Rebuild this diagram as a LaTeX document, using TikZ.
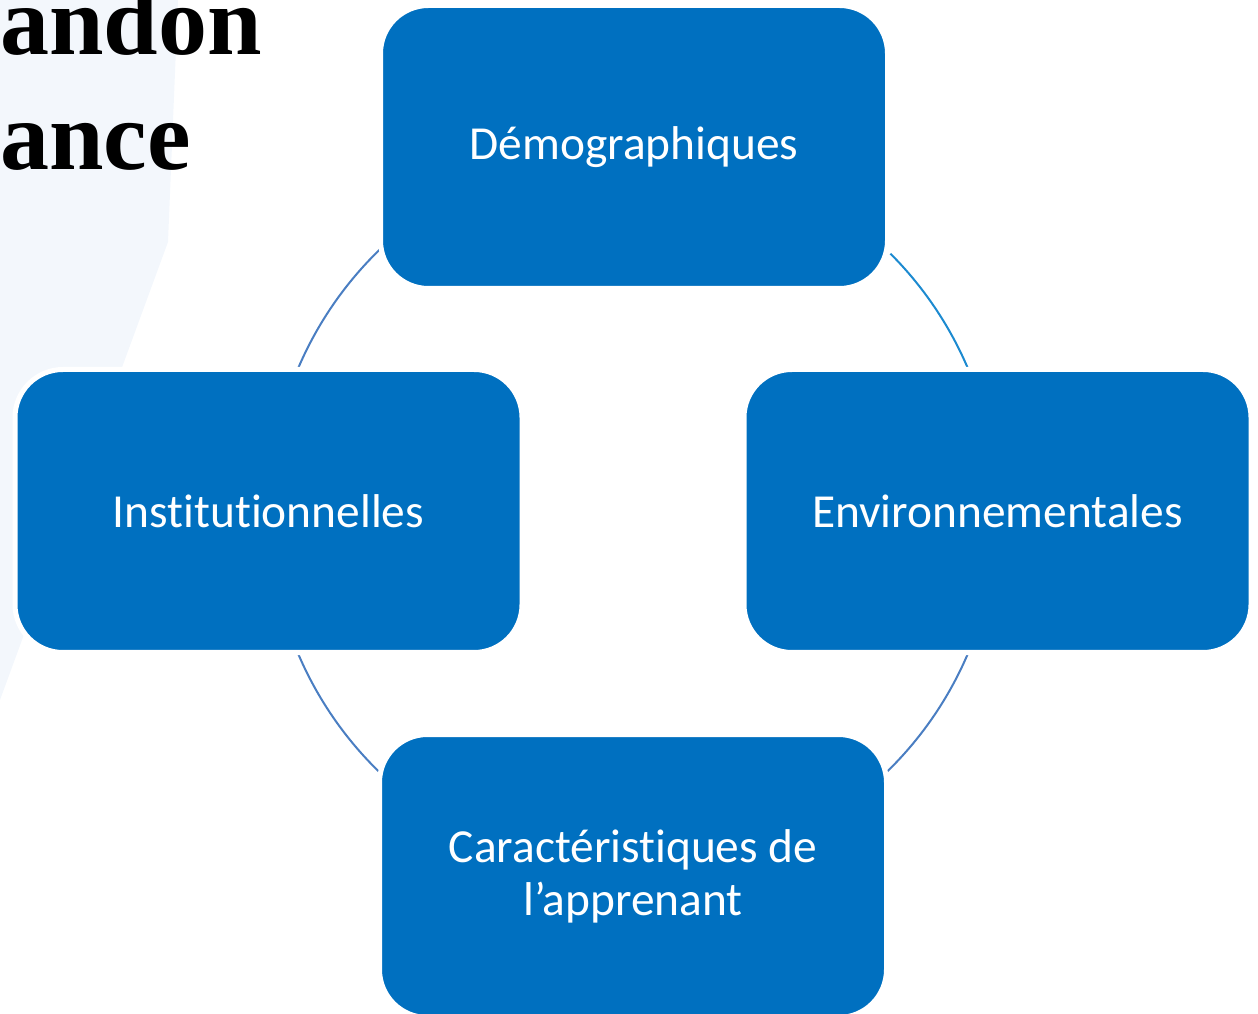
\documentclass[tikz,border=0pt]{standalone}
\usepackage{fontspec}
\setmainfont[Ligatures=NoCommon]{Carlito}
\newfontfamily\titlefont{Liberation Serif}
\usetikzlibrary{arrows}

\definecolor{boxblue}{RGB}{0,112,192}
\definecolor{ringgrey}{RGB}{74,126,194}
\definecolor{ringcyan}{RGB}{28,138,208}
\definecolor{wash}{RGB}{243,247,252}

\begin{document}
\begin{tikzpicture}[x=0.5pt, y=0.5pt,
  factor/.style={rectangle, rounded corners=24pt, fill=boxblue, draw=white, line width=2.5pt, minimum width=253.5pt, minimum height=141.5pt, text=white, align=center, font=\fontsize{23.7}{26.5}\selectfont},
  heading/.style={anchor=base west, inner sep=0pt, font=\titlefont\bfseries\fontsize{49}{55}\selectfont},
  ring/.style={line width=1pt, ringgrey}]

		\useasboundingbox (0,0) rectangle (1258,1013);
		\fill[wash] (0,1013) -- (178,1013) -- (168,771) -- (0,313) -- cycle;

		\node[heading] (title1) at (0,958) {andon};
		\node[heading] (title2) at (0,843) {ance};

		\coordinate (hub) at (633,502);
		\draw[ring] ([shift={(134:364)}]hub) arc[start angle=134, end angle=157, radius=364];
		\draw[ring, ringcyan] ([shift={(45:364)}]hub) arc[start angle=45, end angle=23, radius=364];
		\draw[ring] ([shift={(203:364)}]hub) arc[start angle=203, end angle=226, radius=364];
		\draw[ring] ([shift={(-23:364)}]hub) arc[start angle=-23, end angle=-46, radius=364];

		\node[factor] (demo) at (634,866) {Démographiques};
		\node[factor] (inst) at (268.5,502) {Institutionnelles};
		\node[factor] (env) at (997.5,502) {Environnementales};
		\node[factor] (learner) at (633,137) {Caractéristiques de\\l’apprenant};

		\end{tikzpicture}
\end{document}
